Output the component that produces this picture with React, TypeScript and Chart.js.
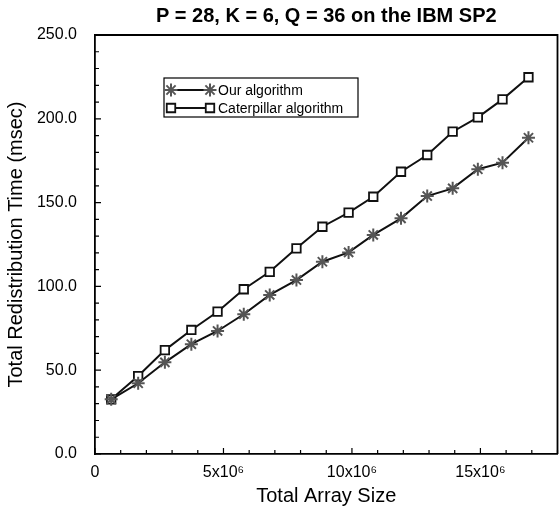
import React, { useEffect, useRef } from 'react';
import { Chart, registerables } from 'chart.js';
import { drawPoint } from 'chart.js/helpers';

Chart.register(...registerables);

// ---- data ----
const chartTitle = 'P = 28, K = 6, Q = 36 on the IBM SP2';
const xAxisTitle = 'Total Array Size';
const yAxisTitle = 'Total Redistribution Time (msec)';
const seriesNames = ['Our algorithm', 'Caterpillar algorithm'];
// total array size, in units of 10^6
const arraySizes = [0.63, 1.68, 2.72, 3.75, 4.77, 5.79, 6.8, 7.84, 8.85, 9.87, 10.83, 11.91, 12.93, 13.92, 14.9, 15.86, 16.87];
const ourAlgorithm = [32.6, 42.2, 54.7, 65.5, 73.4, 83.4, 94.9, 103.8, 114.7, 120.3, 130.7, 140.6, 153.9, 158.5, 169.9, 173.8, 188.7];
const caterpillarAlgorithm = [32.6, 46.5, 62.0, 74.0, 84.9, 98.3, 108.7, 122.7, 135.6, 144.0, 153.5, 168.4, 178.4, 192.3, 200.9, 211.6, 224.8];
const xMin = 0, xMax = 18, xStep = 1, xLabelEvery = 5;
const yMin = 0, yMax = 250, yStep = 10, yLabelEvery = 50;

const FONT = '"Liberation Sans", Arial, Helvetica, sans-serif';

const frameAndTicks = {
  id: 'frameAndTicks',
  afterDatasetsDraw(chart: any) {
    const { ctx, chartArea: a, scales } = chart;
    ctx.save();
    ctx.strokeStyle = '#000';
    ctx.lineWidth = 1.8;
    ctx.beginPath();
    ctx.moveTo(a.left, a.top);
    ctx.lineTo(a.right, a.top);
    ctx.lineTo(a.right, a.bottom);
    ctx.stroke();
    ctx.lineWidth = 1.2;
    ctx.beginPath();
    scales.x.ticks.forEach((t: any) => {
      const px = scales.x.getPixelForValue(t.value);
      const len = Math.abs(t.value % xLabelEvery) < 1e-9 ? 6 : 4;
      ctx.moveTo(px, a.bottom);
      ctx.lineTo(px, a.bottom - len);
    });
    scales.y.ticks.forEach((t: any) => {
      const py = scales.y.getPixelForValue(t.value);
      const len = Math.abs(t.value % yLabelEvery) < 1e-9 ? 6 : 4;
      ctx.moveTo(a.left, py);
      ctx.lineTo(a.left + len, py);
    });
    ctx.stroke();
    ctx.restore();
  },
};

const insideLegend = {
  id: 'insideLegend',
  afterDraw(chart: any) {
    const { ctx, chartArea: a } = chart;
    const left = a.left + 69;
    const top = a.top + 43;
    const width = 194;
    const height = 39;
    ctx.save();
    ctx.fillStyle = '#fff';
    ctx.fillRect(left, top, width, height);
    ctx.strokeStyle = '#000';
    ctx.lineWidth = 1.2;
    ctx.strokeRect(left, top, width, height);
    chart.data.datasets.forEach((ds: any, i: number) => {
      const y = top + 12 + i * 18;
      const x0 = left + 7;
      const x1 = left + 46;
      ctx.strokeStyle = ds.borderColor;
      ctx.lineWidth = ds.borderWidth;
      ctx.beginPath();
      ctx.moveTo(x0, y);
      ctx.lineTo(x1, y);
      ctx.stroke();
      const opts = {
        pointStyle: ds.pointStyle,
        radius: ds.pointRadius,
        rotation: 0,
        borderWidth: ds.pointBorderWidth,
      };
      [x0, x1].forEach((x) => {
        ctx.fillStyle = ds.pointBackgroundColor;
        ctx.strokeStyle = ds.pointBorderColor;
        ctx.lineWidth = ds.pointBorderWidth;
        drawPoint(ctx, opts as any, x, y);
      });
      ctx.fillStyle = '#000';
      ctx.font = `14px ${FONT}`;
      ctx.textBaseline = 'middle';
      ctx.textAlign = 'left';
      ctx.fillText(ds.label, left + 54, y + 1);
    });
    ctx.restore();
  },
};

export default function App() {
  const ref = useRef<HTMLCanvasElement | null>(null);
  useEffect(() => {
    if (!ref.current) return;
    const chart = new Chart(ref.current, {
      type: 'line',
      data: {
        datasets: [
          {
            label: seriesNames[0],
            data: arraySizes.map((x, i) => ({ x, y: ourAlgorithm[i] })),
            borderColor: '#111',
            borderWidth: 2,
            pointStyle: 'star',
            pointRadius: 6.5,
            pointBorderWidth: 2,
            pointBorderColor: '#555',
            pointBackgroundColor: '#555',
            tension: 0,
          },
          {
            label: seriesNames[1],
            data: arraySizes.map((x, i) => ({ x, y: caterpillarAlgorithm[i] })),
            borderColor: '#111',
            borderWidth: 2,
            pointStyle: 'rect',
            pointRadius: 6,
            pointBorderWidth: 1.8,
            pointBorderColor: '#111',
            pointBackgroundColor: '#fff',
            tension: 0,
          },
        ],
      },
      options: {
        animation: false,
        responsive: false,
        layout: { padding: 0 },
        plugins: {
          legend: { display: false },
          tooltip: { enabled: false },
          title: {
            display: true,
            text: chartTitle,
            fullSize: false,
            color: '#000',
            font: { family: FONT, size: 20, weight: 'bold' },
            padding: { top: 4, bottom: 7 },
          },
        },
        scales: {
          x: {
            type: 'linear',
            min: xMin,
            max: xMax,
            grid: { display: false },
            border: { display: true, color: '#000', width: 1.8 },
            ticks: {
              stepSize: xStep,
              autoSkip: false,
              maxRotation: 0,
              padding: 3,
              color: '#000',
              font: { family: FONT, size: 16, lineHeight: 1 },
              callback: (v: any) => {
                const n = Number(v);
                if (Math.abs(n % xLabelEvery) > 1e-9) return '';
                return n === 0 ? '0' : `${n}x10\u2076`;
              },
            },
            title: {
              display: true,
              text: xAxisTitle,
              color: '#000',
              font: { family: FONT, size: 20 },
              padding: { top: 0, bottom: 5 },
            },
            afterFit: (s: any) => {
              s.height = 59;
            },
          },
          y: {
            type: 'linear',
            min: yMin,
            max: yMax,
            grid: { display: false },
            border: { display: true, color: '#000', width: 1.8 },
            ticks: {
              stepSize: yStep,
              autoSkip: false,
              padding: 10,
              color: '#000',
              font: { family: FONT, size: 16 },
              callback: (v: any) => {
                const n = Number(v);
                return Math.abs(n % yLabelEvery) < 1e-9 ? n.toFixed(1) : '';
              },
            },
            title: {
              display: true,
              text: yAxisTitle,
              color: '#000',
              font: { family: FONT, size: 20 },
              padding: { top: 4, bottom: 0 },
            },
            afterFit: (s: any) => {
              s.width = 95;
            },
          },
        },
      },
      plugins: [frameAndTicks, insideLegend],
    });
    return () => chart.destroy();
  }, []);
  return (
    <div style={{ position: 'fixed', left: 0, top: 0, width: 560, height: 513, overflow: 'hidden', background: '#fff' }}>
      <canvas ref={ref} width={566} height={513} style={{ width: 566, height: 513, display: 'block' }} />
    </div>
  );
}
